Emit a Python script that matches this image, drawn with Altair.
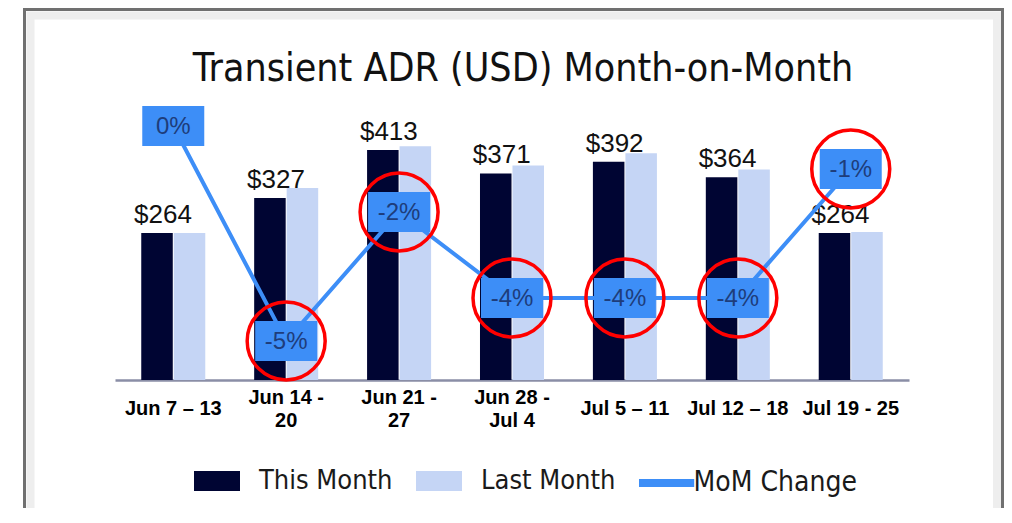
import json
import altair as alt
import pandas as pd

categories = ["Jun 7 – 13", "Jun 14 - 20", "Jun 21 - 27", "Jun 28 - Jul 4",
              "Jul 5 – 11", "Jul 12 – 18", "Jul 19 - 25"]
tick_lines = [["Jun 7 – 13"], ["Jun 14 -", "20"], ["Jun 21 -", "27"],
              ["Jun 28 -", "Jul 4"], ["Jul 5 – 11"], ["Jul 12 – 18"], ["Jul 19 - 25"]]
this_month = [264, 327, 413, 371, 392, 364, 264]
last_month = [264, 345, 420, 385, 407, 378, 266]
mom_change = [0, -5, -2, -4, -4, -4, -1]
circled = [False, True, True, True, True, True, True]
series_names = ["This Month", "Last Month", "MoM Change"]
series_colors = ["#000533", "#c5d5f5", "#3d8ef7"]

bars_df = pd.DataFrame({
    "category": categories * 2,
    "series": [series_names[0]] * len(categories) + [series_names[1]] * len(categories),
    "value": this_month + last_month,
})
mom_df = pd.DataFrame({
    "category": categories,
    "series": [series_names[2]] * len(categories),
    "mom": mom_change,
    "mom_label": [f"{v}%" for v in mom_change],
    "circled": circled,
})

COND = "DejaVu Sans Condensed, Liberation Sans Narrow, sans-serif"
SANS = "Liberation Sans, Arial, sans-serif"

expr = "datum.label"
for cat, lines in reversed(list(zip(categories, tick_lines))):
    if len(lines) > 1:
        expr = (f"datum.label == {json.dumps(cat, ensure_ascii=False)} ? "
                f"{json.dumps(lines, ensure_ascii=False)} : ({expr})")
label_expr = expr
two_line = [c for c, l in zip(categories, tick_lines) if len(l) > 1]
two_line_test = f"indexof({json.dumps(two_line, ensure_ascii=False)}, datum.value) >= 0"

x_enc = alt.X(
    "category:N", sort=categories,
    scale=alt.Scale(domain=categories, paddingInner=0.433, paddingOuter=0.2325),
    axis=alt.Axis(title=None, labelAngle=0, labelExpr=label_expr, labelFont=SANS,
                  labelFontWeight="bold", labelFontSize=20, labelColor="#000000",
                  labelBaseline={"condition": {"test": two_line_test, "value": "middle"},
                                 "value": "line-top"},
                  labelLineHeight=23, labelPadding=17,
                  ticks=False, grid=False, domainColor="#8a8ea6", domainWidth=2.5,
                  labelLimit=300),
)
off_scale = alt.Scale(domain=series_names[:2], paddingInner=0.03)
bar_color_scale = alt.Scale(domain=series_names[:2], range=series_colors[:2])
line_color_scale = alt.Scale(domain=series_names[2:], range=series_colors[2:])

bar_legend = alt.Legend(
    orient="none", legendX=79, legendY=345, direction="horizontal", title=None,
    labelFont=COND, labelFontSize=27, labelColor="#1a1a1a", labelLimit=400,
    symbolType="M-1,-0.43H1V0.43H-1Z", symbolSize=2116, labelOffset=19,
    columnPadding=23, symbolStrokeWidth=0, symbolOpacity=1,
)
line_legend = alt.Legend(
    orient="none", legendX=524.6, legendY=343, direction="horizontal", title=None,
    labelFont=COND, labelFontSize=28, labelColor="#1a1a1a", labelLimit=400,
    symbolType="M-1.2,0H1.2", symbolSize=2116, labelOffset=0,
    symbolStrokeWidth=8, symbolOpacity=1,
)

y_bar = alt.Y("value:Q", scale=alt.Scale(domain=[0, 479.5], nice=False, zero=True), axis=None)
y_mom = alt.Y("mom:Q", scale=alt.Scale(domain=[-5.907, 0.302], nice=False, zero=False), axis=None)

frame_df = pd.DataFrame({"k": [0]})
frame_outer = alt.Chart(frame_df).mark_rect(filled=False, stroke="#707070", strokeWidth=3).encode(
    x=alt.value(-90.5), x2=alt.value(887.5), y=alt.value(-103.5), y2=alt.value(420))
frame_inner = alt.Chart(frame_df).mark_rect(filled=False, stroke="#eeeeee", strokeWidth=8).encode(
    x=alt.value(-84.5), x2=alt.value(882), y=alt.value(-97.5), y2=alt.value(420))

bars = alt.Chart(bars_df).mark_bar().encode(
    x=x_enc,
    xOffset=alt.XOffset("series:N", scale=off_scale, sort=series_names[:2]),
    y=y_bar,
    color=alt.Color("series:N", scale=bar_color_scale, legend=bar_legend),
)
bar_labels = alt.Chart(bars_df).transform_filter(
    alt.datum.series == series_names[0]
).mark_text(baseline="alphabetic", dy=-10, dx=6, font=SANS, fontSize=26, color="#111111").encode(
    x=x_enc,
    xOffset=alt.XOffset("series:N", scale=off_scale, sort=series_names[:2]),
    y=y_bar,
    text=alt.Text("value:Q", format="$d"),
)

line = alt.Chart(mom_df).mark_line(strokeWidth=4).encode(
    x=x_enc, y=y_mom,
    stroke=alt.Stroke("series:N", scale=line_color_scale, legend=line_legend),
)
boxes = alt.Chart(mom_df).mark_point(
    shape="M-1.55,-1H1.55V1H-1.55Z", size=1600, filled=True, fill="#3d8ef7",
    opacity=1, strokeWidth=0,
).encode(x=x_enc, y=y_mom)
box_text = alt.Chart(mom_df).mark_text(
    font=SANS, fontSize=24, color="#1e3d7b", baseline="middle", dy=1,
).encode(x=x_enc, y=y_mom, text="mom_label:N")
circles = alt.Chart(mom_df).transform_filter("datum.circled").mark_point(
    shape="circle", size=6084, filled=False, stroke="#ff0000", strokeWidth=3.5, opacity=1,
).encode(x=x_enc, y=y_mom)

chart = alt.layer(
    frame_outer, frame_inner,
    alt.layer(bars, bar_labels),
    alt.layer(line, boxes, box_text, circles),
).resolve_scale(y="independent").properties(
    width=794, height=267,
    autosize=alt.AutoSizeParams(type="none"),
    padding={"left": 107, "top": 105, "right": 95, "bottom": 128},
    title=alt.TitleParams("Transient ADR (USD) Month-on-Month", font=COND, fontSize=39,
                          fontWeight="normal", color="#111111", anchor="middle", dx=11,
                          baseline="alphabetic", offset=-112),
).configure_view(strokeWidth=0)

chart.save("out.html", embed_options={"renderer": "svg", "actions": False})
